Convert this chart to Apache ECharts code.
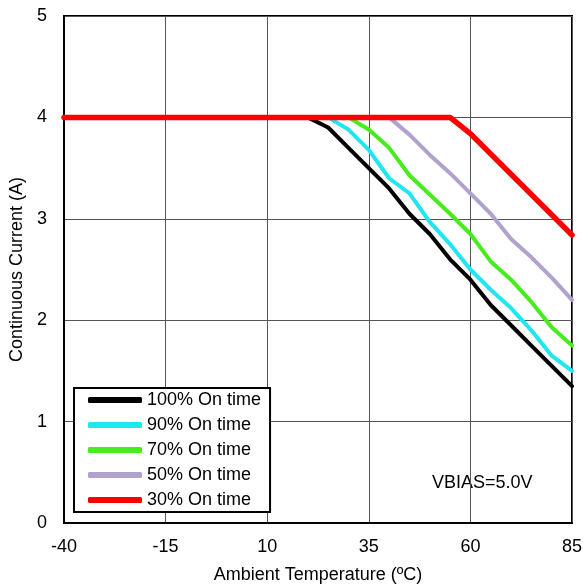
<!DOCTYPE html>
<html><head><meta charset="utf-8">
<script src="https://cdn.jsdelivr.net/npm/echarts@6/dist/echarts.min.js"></script>
<style>html,body{margin:0;padding:0;background:#fff;overflow:hidden}#c{width:584px;height:584px}</style>
</head><body><div id="c"></div>
<script>
const xTicks = [-40, -15, 10, 35, 60, 85];
const yTicks = [0, 1, 2, 3, 4, 5];
const seriesNames = ['100% On time', '90% On time', '70% On time', '50% On time', '30% On time'];
const t100 = [-40, 20, 25, 30, 35, 40, 45, 50, 55, 60, 65, 70, 75, 80, 85];
const v100 = [4, 4, 3.9, 3.7, 3.5, 3.3, 3.05, 2.85, 2.6, 2.4, 2.15, 1.95, 1.75, 1.55, 1.35];
const t90 = [-40, 25, 30, 35, 40, 45, 50, 55, 60, 65, 70, 75, 80, 85];
const v90 = [4, 4, 3.88, 3.68, 3.4, 3.25, 2.97, 2.75, 2.5, 2.3, 2.12, 1.9, 1.65, 1.5];
const t70 = [-40, 30, 35, 40, 45, 50, 55, 60, 65, 70, 75, 80, 85];
const v70 = [4, 4, 3.88, 3.7, 3.43, 3.24, 3.05, 2.85, 2.58, 2.4, 2.18, 1.93, 1.75];
const t50 = [-40, 40, 45, 50, 55, 60, 65, 70, 75, 80, 85];
const v50 = [4, 4, 3.83, 3.63, 3.45, 3.25, 3.05, 2.8, 2.62, 2.42, 2.2];
const t30 = [-40, 55, 60, 85];
const v30 = [4, 4, 3.84, 2.84];
const colors = ['#000000', '#22E5F2', '#48EC1E', '#B0A2CC', '#FF0000'];
const widths = [4, 4, 4, 4, 5.5];
const temps = [t100, t90, t70, t50, t30];
const vals = [v100, v90, v70, v50, v30];

const font = 'Arial, "Liberation Sans", sans-serif';
const chart = echarts.init(document.getElementById('c'), null, {renderer: 'canvas'});
const series = seriesNames.map((n, i) => ({
  name: n, type: 'line', symbol: 'none', smooth: false,
  data: temps[i].map((t, k) => [t, vals[i][k]]),
  lineStyle: {color: colors[i], width: widths[i], cap: 'round', join: 'round'},
  itemStyle: {color: colors[i]},
  z: 2 + i
}));
chart.setOption({
  animation: false,
  backgroundColor: '#fff',
  grid: {left: 64, top: 16, right: 12, bottom: 61, containLabel: false, outerBoundsMode: 'none',
    show: true, borderColor: '#000', borderWidth: 2, backgroundColor: 'transparent'},
  xAxis: {
    type: 'value', min: xTicks[0], max: xTicks[xTicks.length - 1], interval: 25,
    name: 'Ambient Temperature (ºC)', nameLocation: 'middle', nameGap: 43,
    nameTextStyle: {fontFamily: font, fontSize: 18, color: '#000'},
    axisLine: {show: true, onZero: false, lineStyle: {color: '#000', width: 2}},
    axisTick: {show: false},
    axisLabel: {fontFamily: font, fontSize: 18, color: '#000', margin: 15},
    splitLine: {show: true, lineStyle: {color: '#555', width: 1}}
  },
  yAxis: {
    type: 'value', min: yTicks[0], max: yTicks[yTicks.length - 1], interval: 1,
    name: 'Continuous Current (A)', nameLocation: 'middle', nameGap: 33,
    nameTextStyle: {fontFamily: font, fontSize: 18, color: '#000'},
    axisLine: {show: true, onZero: false, lineStyle: {color: '#000', width: 2}},
    axisTick: {show: false},
    axisLabel: {fontFamily: font, fontSize: 18, color: '#000', margin: 17},
    splitLine: {show: true, lineStyle: {color: '#555', width: 1}}
  },
  legend: {
    orient: 'vertical', left: 74, top: 388,
    padding: [2, 9, 2, 14], itemGap: 5, itemWidth: 54, itemHeight: 6,
    icon: 'roundRect',
    backgroundColor: '#fff', borderColor: '#000', borderWidth: 2, borderRadius: 0,
    textStyle: {fontFamily: font, fontSize: 18, color: '#000', lineHeight: 20},
    data: seriesNames
  },
  graphic: [{
    type: 'text', left: 432, top: 474,
    style: {text: 'VBIAS=5.0V', fontFamily: font, fontSize: 18, fill: '#000'}
  }],
  series: series
});
</script></body></html>
